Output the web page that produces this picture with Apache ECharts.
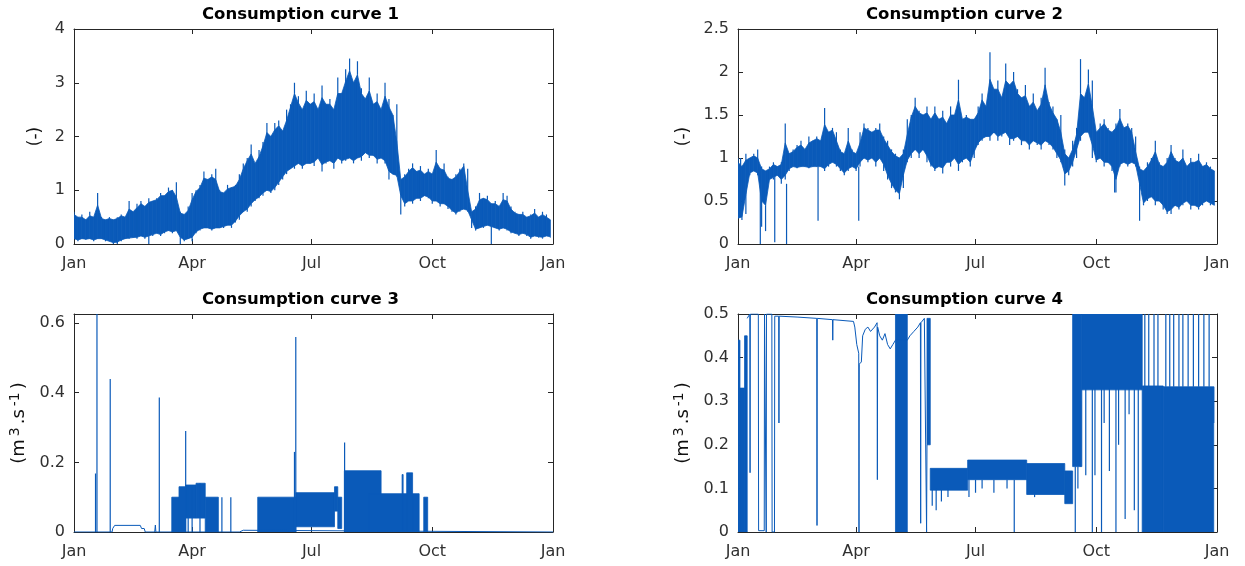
<!DOCTYPE html>
<html><head><meta charset="utf-8">
<script src="https://cdn.jsdelivr.net/npm/echarts@6/dist/echarts.min.js"></script>
<style>html,body{margin:0;padding:0;background:#fff}#c{width:1245px;height:566px}</style>
</head><body><div id="c"></div>
<script>
// ---------- axes / labels ----------
const monthTicks = [0, 90, 181, 273, 365];
const monthLabels = ['Jan', 'Apr', 'Jul', 'Oct', 'Jan'];
const titles = ['Consumption curve 1', 'Consumption curve 2', 'Consumption curve 3', 'Consumption curve 4'];
const yNames = ['(-)', '(-)', '{p|(m}{s|3}{p|.s}{s|-1}{p|)}', '{p|(m}{s|3}{p|.s}{s|-1}{p|)}'];
const yMaxes = [4, 2.5, 0.626, 0.5];
const yTicks1 = [0, 1, 2, 3, 4];
const yTicks2 = [0, 0.5, 1, 1.5, 2, 2.5];
const yTicks3 = [0, 0.2, 0.4, 0.6];
const yTicks4 = [0, 0.1, 0.2, 0.3, 0.4, 0.5];

// ---------- curve 1: band sampled every 3 days (low / high envelope) ----------
const sampleStep = 3;
const c1Hi = [0.6,0.5,0.55,0.45,0.6,0.5,0.95,0.5,0.45,0.5,
  0.45,0.5,0.55,0.5,0.8,0.6,0.75,0.8,0.7,0.85,
  0.8,0.85,0.95,0.9,1.05,1.0,1.15,0.6,0.55,0.7,
  0.95,1.0,1.1,1.35,1.2,1.3,1.4,1.0,0.95,1.1,
  1.05,1.1,1.3,1.5,1.6,1.85,1.5,1.75,1.9,2.25,
  2.0,2.25,2.3,2.1,2.5,2.6,3.0,2.75,2.5,2.85,
  2.6,2.8,2.5,2.95,2.6,2.7,2.5,3.1,2.8,3.25,
  3.45,3.0,3.4,2.9,2.7,3.1,2.6,2.8,2.5,3.0,
  2.7,2.4,2.6,1.2,1.3,1.4,1.5,1.35,1.45,1.3,
  1.4,1.3,1.75,1.4,1.5,1.25,1.2,1.3,1.4,1.5,
  1.4,0.6,0.7,0.95,0.85,0.9,0.75,0.8,0.7,0.95,
  0.9,0.7,0.6,0.55,0.6,0.5,0.55,0.65,0.5,0.6,0.55,0.45];
const c1Lo = [0.1,0.05,0.1,0.08,0.1,0.05,0.1,0.1,0.05,0.05,
  0.0,0.02,0.05,0.1,0.1,0.12,0.1,0.15,0.1,0.15,
  0.15,0.2,0.15,0.2,0.25,0.2,0.25,0.0,0.05,0.1,
  0.05,0.2,0.25,0.3,0.3,0.25,0.3,0.3,0.3,0.35,
  0.3,0.4,0.45,0.6,0.6,0.7,0.8,0.85,0.9,1.0,
  0.95,1.0,1.1,1.2,1.3,1.4,1.4,1.5,1.4,1.5,
  1.5,1.45,1.6,1.35,1.5,1.55,1.4,1.6,1.5,1.55,
  1.6,1.5,1.6,1.55,1.7,1.6,1.65,1.5,1.6,1.5,
  1.2,1.3,1.25,0.55,0.7,0.8,0.75,0.85,0.8,0.9,
  0.85,0.75,0.8,0.7,0.75,0.65,0.6,0.55,0.6,0.65,
  0.6,0.3,0.25,0.3,0.3,0.35,0.3,0.3,0.25,0.3,
  0.25,0.2,0.2,0.15,0.2,0.15,0.1,0.15,0.12,0.1,0.15,0.12];
const c1Spikes = [[318, 0.3, 0.0], [57, 0.15, 0.0], [33, 0.05, 0.0]];

// ---------- curve 2 ----------
const c2Hi = [1.0,0.9,1.05,1.0,1.05,1.1,0.9,0.85,0.9,0.95,
  0.9,0.95,1.4,1.05,1.1,1.15,1.2,1.1,1.25,1.2,
  1.25,1.2,1.58,1.3,1.35,1.3,1.1,1.05,1.35,1.1,
  1.05,1.3,1.4,1.35,1.3,1.35,1.4,1.25,1.2,1.1,
  1.05,1.0,1.1,1.45,1.5,1.7,1.55,1.5,1.6,1.45,
  1.6,1.45,1.55,1.4,1.6,1.5,1.91,1.45,1.5,1.45,
  1.45,1.6,1.75,1.6,2.23,1.8,1.9,1.7,2.1,1.85,
  2.0,1.8,1.7,1.85,1.6,1.75,1.55,1.7,2.05,1.65,
  1.6,1.45,1.5,1.1,1.0,1.2,1.35,2.15,1.7,2.03,
  1.9,1.3,1.4,1.45,1.35,1.3,1.4,1.57,1.35,1.4,
  1.35,1.25,0.9,0.85,0.95,1.0,1.2,0.95,0.9,1.0,
  1.15,1.0,0.95,1.1,0.9,1.0,0.95,1.05,0.9,0.95,0.9,0.85];
const c2Lo = [0.3,0.28,0.35,0.8,0.85,0.8,0.2,0.15,0.75,0.75,
  0.8,0.7,0.75,0.85,0.9,0.88,0.9,0.9,0.88,0.9,
  0.9,0.9,0.85,0.9,0.95,0.9,0.85,0.8,0.85,0.9,
  0.85,0.9,1.0,0.95,1.0,0.9,1.0,0.85,0.75,0.65,
  0.6,0.52,0.65,0.95,1.0,1.1,1.0,1.1,0.95,0.9,
  0.85,0.9,0.82,0.95,0.9,1.0,0.85,0.95,1.0,0.9,
  1.0,1.15,1.2,1.25,1.2,1.3,1.2,1.25,1.3,1.15,
  1.2,1.25,1.15,1.2,1.1,1.2,1.15,1.1,1.2,1.15,
  1.1,1.0,0.95,0.68,0.8,0.9,1.0,1.2,1.3,1.3,
  1.0,0.95,1.0,0.9,0.95,0.85,0.6,0.9,0.95,0.9,
  0.95,0.9,0.5,0.45,0.5,0.55,0.45,0.5,0.4,0.35,
  0.35,0.45,0.4,0.45,0.5,0.4,0.45,0.4,0.45,0.5,0.45,0.45];
const c2Spikes = [[17, 0.8, 0], [28, 0.8, 0.02], [37, 0.7, 0], [61, 0.9, 0.27], [92, 0.9, 0.27],
  [287, 0.9, 0.6], [306, 0.6, 0.27], [2, 0.5, 1.0]];

// ---------- curve 3: baseline, dense blocks [start, end, low, high], spikes [day, from, to] ----------
const c3Line = [[0,0],[29,0],[29.5,0.01],[31,0.019],[50.5,0.019],[51.5,0.01],[53.5,0.01],[54.3,0],
  [61.5,0],[62,0.02],[62.4,0],[126,0],[126.5,0.005],[129,0.005],[129.5,0],[365,0]];
const c3Blocks = [[74.5,80,0,0.1],[80,85,0,0.13],[85,93,0.04,0.135],[93,100,0.04,0.14],[100,110,0,0.1],
  [140,169,0,0.1],[169,198.5,0.015,0.113],[198.5,201,0.06,0.13],[201,204,0.01,0.1],
  [206,234,0,0.176],[225,263,0,0.11],[250,250.8,0,0.165],[253.5,258,0,0.17],[266.5,269.5,0,0.1]];
const c3Spikes = [[16.4,0,0.168],[17.5,0,0.7],[27.6,0,0.439],[65,0,0.386],[85.1,0,0.29],
  [87,0,0.13],[90,0,0.13],[96,0,0.14],[112.7,0,0.1],[119.5,0,0.1],[168,0,0.23],[169,0,0.56],[206.2,0,0.257]];

// ---------- curve 4 ----------
const c4Line = [[7,0.49],[9,0.5],[9.2,0.136],[9.4,0.5],[15.5,0.5],[15.7,0.003],[20,0.003],[20.2,0.5],
  [21.3,0.5],[21.5,0],[21.7,0.5],[25.8,0.5],[26,0],[27.8,0],[28,0.495],[31,0.495],[31.2,0.25],[31.4,0.495],
  [45,0.493],[60,0.49],[60.2,0.015],[60.4,0.49],[72,0.487],[72.2,0.44],[72.4,0.487],[88,0.483],[89,0.47],
  [90.5,0.43],[92,0.41],[92.2,0.0],[92.4,0.385],[94,0.39],[95,0.45],[97,0.465],[99,0.47],[101,0.46],
  [104,0.47],[106,0.48],[106.2,0.12],[106.4,0.47],[108,0.45],[110,0.44],[112,0.455],[114,0.43],[116,0.42],
  [118,0.43],[120,0.44],[129,0.44],[131,0.45],[134,0.46],[137,0.47],[139,0.48],[139.2,0.02],[139.4,0.48],
  [142,0.49],[143.5,0.49],[143.7,0],[144,0.2]];
const c4Blocks = [[0,1.5,0,0.44],[1.5,5,0,0.33],[5,7,0,0.45],[120,129,0,0.5],[144,146.5,0.2,0.49],
  [146.5,175,0.096,0.146],[175,220,0.12,0.165],[220,249,0.086,0.157],[249,255,0.065,0.14],
  [255,262,0.15,0.5],[262,308,0.326,0.5],[308,324,0,0.335],[324,362.5,0,0.333]];
const c4Spikes = [[148,0.1,0.06],[151,0.1,0.05],[155,0.1,0.07],[160,0.1,0.08],[176,0.12,0.08],[181,0.12,0.09],
  [186,0.12,0.1],[195,0.12,0.09],[205,0.12,0.1],[210.5,0.12,0],[226,0.09,0.08],
  [257,0.15,0],[259,0.15,0.1],[261,0.15,0.3],[265,0.33,0.13],[270,0.33,0],[272,0.33,0.13],[277,0.33,0],
  [279,0.33,0.25],[283,0.33,0.14],[288,0.33,0],[290,0.33,0.2],[295,0.33,0.03],[298,0.33,0.27],[302,0.33,0.05],
  [305,0.33,0],[310,0.335,0.5],[313,0.335,0.5],[317,0.335,0.5],[320,0.335,0.5],[323,0.335,0.28],[326,0.333,0.5],
  [329,0.333,0.5],[332,0.333,0.5],[336,0.333,0.5],[339,0.333,0.5],[343,0.333,0.5],[347,0.333,0.5],
  [351,0.333,0.5],[355,0.333,0.5],[359,0.333,0.5],[362.5,0.333,0.25]];

// ---------- rendering ----------
const BLUE = '#0a5ab9';
const AX = '#262626';
const TXT = '#303030';
const FONT = 'DejaVu Sans';
const yTicksAll = [yTicks1, yTicks2, yTicks3, yTicks4];
const grids = [
  {left: 74, top: 29, width: 479, height: 215},
  {left: 738, top: 29, width: 479, height: 215},
  {left: 74, top: 314, width: 479, height: 218},
  {left: 738, top: 314, width: 479, height: 218}
];
const nameGaps = [30, 46, 44, 44];

// solid core of a sampled band, with needles out to each sample's own extreme
function coreOf(lo, hi) {
  const n = lo.length, cLo = [], cHi = [];
  for (let i = 0; i < n; i++) {
    const a = Math.max(0, i - 1), b = Math.min(n - 1, i + 1);
    let h = (Math.min(hi[a], hi[i], hi[b]) + hi[i]) / 2;
    let l = (Math.max(lo[a], lo[i], lo[b]) + lo[i]) / 2;
    if (l > h) { const m = (lo[i] + hi[i]) / 2; l = m; h = m; }
    cLo.push(l); cHi.push(h);
  }
  return {cLo, cHi};
}
function bandFromSamples(lo, hi) {
  const {cLo, cHi} = coreOf(lo, hi);
  const out = [];
  for (let i = 0; i < lo.length - 1; i++) {
    out.push([i * sampleStep, cLo[i], cHi[i], (i + 1) * sampleStep, cLo[i + 1], cHi[i + 1]]);
  }
  return out;
}
function needlesFromSamples(lo, hi) {
  const {cLo, cHi} = coreOf(lo, hi);
  const out = [];
  for (let i = 0; i < lo.length; i++) {
    out.push([i * sampleStep, cHi[i], hi[i]]);
    out.push([i * sampleStep, cLo[i], lo[i]]);
  }
  return out;
}
function bandFromBlocks(blocks) {
  return blocks.map(b => [b[0], b[2], b[3], b[1], b[2], b[3]]);
}
function polyItem(params, api) {
  const a = api.coord([api.value(0), api.value(1)]);
  const b = api.coord([api.value(0), api.value(2)]);
  const c = api.coord([api.value(3), api.value(5)]);
  const d = api.coord([api.value(3), api.value(4)]);
  return {type: 'polygon', shape: {points: [a, b, c, d]}, style: {fill: BLUE, stroke: BLUE, lineWidth: 0.8}};
}
function spikeItem(params, api) {
  const a = api.coord([api.value(0), api.value(1)]);
  const b = api.coord([api.value(0), api.value(2)]);
  return {type: 'line', shape: {x1: a[0], y1: a[1], x2: b[0], y2: b[1]}, style: {stroke: BLUE, lineWidth: 1.2}};
}
function bandSeries(g, data) {
  return {type: 'custom', xAxisIndex: g * 2, yAxisIndex: g * 2, data: data, renderItem: polyItem,
    encode: {x: [0, 3], y: [1, 2, 4, 5]}, clip: true, silent: true, z: 2};
}
function spikeSeries(g, data) {
  return {type: 'custom', xAxisIndex: g * 2, yAxisIndex: g * 2, data: data, renderItem: spikeItem,
    encode: {x: [0], y: [1, 2]}, clip: true, silent: true, z: 3};
}
function lineSeries(g, data) {
  return {type: 'line', xAxisIndex: g * 2, yAxisIndex: g * 2, data: data, showSymbol: false, symbol: 'none',
    lineStyle: {color: BLUE, width: 1}, clip: true, silent: true, animation: false, z: 3};
}

const xAxes = [], yAxes = [];
for (let g = 0; g < 4; g++) {
  ['bottom', 'top'].forEach(pos => {
    xAxes.push({type: 'value', gridIndex: g, position: pos, min: 0, max: 365,
      axisLine: {show: true, onZero: false, lineStyle: {color: AX, width: 1}},
      axisTick: {show: true, inside: true, length: 5, customValues: monthTicks, lineStyle: {color: AX}},
      axisLabel: {show: pos === 'bottom', customValues: monthTicks, margin: 12, fontSize: 16, color: TXT,
        fontFamily: FONT, formatter: v => monthLabels[monthTicks.indexOf(Math.round(v))]},
      splitLine: {show: false}});
  });
  ['left', 'right'].forEach(pos => {
    yAxes.push({type: 'value', gridIndex: g, position: pos, min: 0, max: yMaxes[g],
      name: pos === 'left' ? yNames[g] : '', nameLocation: 'middle', nameRotate: 90, nameGap: nameGaps[g],
      nameTextStyle: {fontSize: 17, color: '#111', fontFamily: FONT,
        rich: {p: {fontSize: 18, color: '#111', fontFamily: FONT, padding: [0, 1, 0, 1]},
               s: {fontSize: 14, color: '#111', fontFamily: FONT, verticalAlign: 'top', padding: [0, 2, 8, 2]}}},
      axisLine: {show: true, onZero: false, lineStyle: {color: AX, width: 1}},
      axisTick: {show: true, inside: true, length: 5, customValues: yTicksAll[g], lineStyle: {color: AX}},
      axisLabel: {show: pos === 'left', customValues: yTicksAll[g], margin: 9, fontSize: 16, color: TXT, fontFamily: FONT},
      splitLine: {show: false}});
  });
}

const titleTops = [1, 1, 286, 286];
const titleShift = -18;
const option = {
  animation: false,
  backgroundColor: '#fff',
  title: titles.map((t, i) => ({text: t, left: grids[i].left + grids[i].width / 2 + titleShift, top: titleTops[i], textAlign: 'center',
    textStyle: {fontSize: 16.5, fontWeight: 'bold', color: '#000', fontFamily: FONT}})),
  grid: grids,
  xAxis: xAxes,
  yAxis: yAxes,
  series: [
    bandSeries(0, bandFromSamples(c1Lo, c1Hi)), spikeSeries(0, needlesFromSamples(c1Lo, c1Hi)), spikeSeries(0, c1Spikes),
    bandSeries(1, bandFromSamples(c2Lo, c2Hi)), spikeSeries(1, needlesFromSamples(c2Lo, c2Hi)), spikeSeries(1, c2Spikes),
    lineSeries(2, c3Line), bandSeries(2, bandFromBlocks(c3Blocks)), spikeSeries(2, c3Spikes),
    lineSeries(3, c4Line), bandSeries(3, bandFromBlocks(c4Blocks)), spikeSeries(3, c4Spikes)
  ]
};
const chart = echarts.init(document.getElementById('c'), null, {renderer: 'canvas'});
chart.setOption(option);
</script></body></html>
